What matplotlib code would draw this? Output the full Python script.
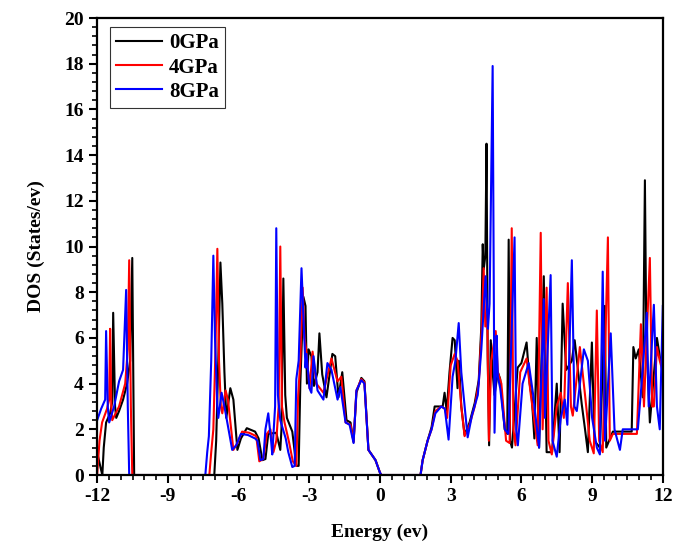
import matplotlib
matplotlib.use("Agg")
import matplotlib.pyplot as plt
from matplotlib.ticker import MultipleLocator

# Energy (eV) / DOS points, one list per pressure
e_0gpa = [-12.0, -11.85, -11.78, -11.72, -11.62, -11.45, -11.36, -11.32, -11.24, -11.19,
          -11.07, -10.9, -10.73, -10.6, -10.51, -10.45, -10.43,
          -7.03, -6.95, -6.86, -6.77, -6.69, -6.6, -6.52, -6.35, -6.22, -6.05, -5.9, -5.65,
          -5.3, -5.15, -4.99, -4.86, -4.74, -4.4, -4.23, -4.18, -4.1, -4.02, -3.95, -3.72,
          -3.55, -3.45, -3.38, -3.25, -3.16, -3.1, -3.03, -2.91, -2.8, -2.65, -2.57, -2.45,
          -2.27, -2.02, -1.9, -1.76, -1.6, -1.42, -1.25, -1.12, -1.0, -0.79, -0.66, -0.49,
          -0.19, 0.0, 0.06,
          1.72, 1.81, 2.02, 2.19, 2.32, 2.66, 2.74, 2.83, 2.95, 3.08, 3.17, 3.29, 3.35, 3.45,
          3.59, 3.8, 4.02, 4.19, 4.3, 4.36, 4.4, 4.47, 4.52, 4.57, 4.63, 4.7, 4.78, 4.86,
          5.0, 5.1, 5.29, 5.4, 5.46, 5.52, 5.6, 5.84, 6.0, 6.22, 6.35, 6.44, 6.55, 6.65,
          6.75, 6.95, 7.07, 7.3, 7.5, 7.62, 7.75, 7.9, 8.14, 8.26, 8.56, 8.7, 8.82, 8.99,
          9.1, 9.33, 9.54, 9.6, 9.88, 10.68, 10.75, 10.85, 10.98, 11.15, 11.24, 11.3, 11.45,
          11.75, 11.9, 12.0]
d_0gpa = [1.0, 0.3, 0.0, 1.2, 2.3, 2.7, 3.2, 7.1, 3.0, 2.5,
          2.8, 3.3, 4.0, 5.0, 9.5, 2.0, 0.0,
          0.0, 1.5, 5.0, 9.3, 7.5, 4.5, 2.5, 3.8, 3.3, 1.1, 1.6, 2.05,
          1.9, 1.6, 0.65, 0.7, 1.8, 1.85, 1.1, 2.0, 8.6, 3.5, 2.5, 1.9,
          0.4, 0.4, 4.0, 7.8, 7.4, 4.0, 5.5, 5.2, 3.9, 4.5, 6.2, 4.4,
          3.4, 5.3, 5.2, 3.4, 4.5, 2.4, 2.3, 1.45, 3.6, 4.25, 4.1, 1.1,
          0.65, 0.1, 0.0,
          0.0, 0.65, 1.5, 2.1, 3.0, 3.0, 3.6, 2.8, 4.5, 6.0, 5.9, 3.8, 5.0, 3.0,
          1.75, 2.3, 3.15, 4.15, 6.5, 10.1, 9.0, 9.6, 14.5, 5.2, 1.3, 5.9, 4.5, 3.5,
          4.5, 4.2, 2.0, 1.8, 10.3, 1.5, 1.2, 4.7, 4.9, 5.8, 4.0, 3.4, 1.6, 6.0,
          1.2, 8.7, 1.0, 1.0, 4.0, 1.0, 7.5, 4.6, 5.0, 5.9, 3.1, 2.0, 1.0, 5.8,
          1.5, 1.2, 7.4, 1.2, 1.9, 1.9, 5.6, 5.1, 5.5, 3.4, 12.9, 6.0, 2.3,
          6.0, 5.0, 5.2]

e_4gpa = [-12.0, -11.9, -11.79, -11.58, -11.49, -11.45, -11.4, -11.36, -11.07, -10.81,
          -10.7, -10.64, -10.57, -10.51,
          -7.24, -7.16, -7.07, -6.98, -6.9, -6.83, -6.75, -6.69, -6.55, -6.45, -6.22, -6.05,
          -5.85, -5.55, -5.25, -5.12, -4.95, -4.8, -4.65, -4.52, -4.4, -4.3, -4.23, -4.16,
          -4.05, -3.85, -3.7, -3.55, -3.47, -3.38, -3.28, -3.2, -3.12, -2.99, -2.86, -2.7,
          -2.4, -2.06, -1.8, -1.64, -1.46, -1.25, -1.12, -1.0, -0.79, -0.66, -0.49, -0.19,
          0.0, 0.06,
          1.72, 1.81, 2.02, 2.19, 2.35, 2.6, 2.75, 2.85, 3.0, 3.17, 3.29, 3.45, 3.59, 3.8,
          4.02, 4.19, 4.32, 4.4, 4.47, 4.55, 4.62, 4.72, 4.91, 5.0, 5.15, 5.35, 5.5, 5.59,
          5.66, 5.75, 5.95, 6.22, 6.4, 6.69, 6.82, 6.9, 7.07, 7.15, 7.29, 7.5, 7.67, 7.8,
          7.97, 8.1, 8.18, 8.48, 8.7, 8.9, 9.07, 9.2, 9.3, 9.45, 9.67, 9.75, 9.88, 10.9,
          11.07, 11.2, 11.45, 11.55, 11.62, 11.75, 11.87, 12.0]
d_4gpa = [0.0, 1.5, 2.3, 2.9, 3.3, 6.4, 3.0, 2.4, 3.0, 4.0,
          5.5, 9.4, 3.0, 0.0,
          0.0, 1.0, 2.0, 5.5, 9.9, 5.0, 3.0, 2.7, 3.7, 3.3, 1.1, 1.4,
          1.9, 1.85, 1.7, 0.6, 0.7, 1.8, 2.0, 1.0, 1.5, 3.0, 10.0, 3.0,
          2.3, 1.4, 0.6, 0.4, 3.5, 5.0, 8.2, 6.0, 5.4, 3.8, 5.4, 4.0,
          3.6, 5.1, 4.1, 4.3, 2.3, 2.2, 1.45, 3.7, 4.2, 4.05, 1.1, 0.65,
          0.1, 0.0,
          0.0, 0.65, 1.5, 2.0, 2.8, 3.0, 2.9, 2.5, 4.8, 5.3, 5.0, 3.0, 1.7, 2.2,
          3.0, 4.0, 6.5, 9.05, 6.5, 7.0, 1.5, 5.0, 6.3, 4.5, 4.0, 1.5, 1.4, 10.8,
          2.0, 1.3, 4.5, 5.1, 3.5, 1.3, 10.6, 2.0, 8.2, 1.5, 0.9, 3.0, 3.6, 2.5,
          8.4, 3.0, 2.6, 5.6, 3.5, 1.5, 0.95, 7.2, 1.5, 1.0, 10.4, 1.5, 1.8, 1.8,
          6.6, 3.0, 9.5, 3.0, 3.0, 5.6, 5.0, 4.5]

e_8gpa = [-12.0, -11.83, -11.66, -11.62, -11.55, -11.49, -11.28, -11.07, -10.9, -10.77,
          -10.7, -10.64,
          -7.41, -7.33, -7.26, -7.16, -7.07, -7.0, -6.9, -6.86, -6.72, -6.6, -6.27, -6.1,
          -5.9, -5.6, -5.3, -5.2, -5.07, -4.95, -4.86, -4.74, -4.62, -4.57, -4.45, -4.4,
          -4.33, -4.23, -4.0, -3.89, -3.72, -3.62, -3.55, -3.45, -3.33, -3.25, -3.16, -3.12,
          -2.99, -2.91, -2.82, -2.65, -2.4, -2.23, -2.06, -1.8, -1.68, -1.46, -1.29, -1.12,
          -1.0, -0.79, -0.66, -0.49, -0.19, 0.0, 0.06,
          1.72, 1.81, 2.02, 2.19, 2.35, 2.6, 2.75, 2.91, 3.08, 3.2, 3.34, 3.45, 3.72, 3.9,
          4.15, 4.3, 4.48, 4.58, 4.65, 4.78, 4.86, 4.95, 5.0, 5.1, 5.3, 5.45, 5.71, 5.78,
          5.85, 6.05, 6.31, 6.5, 6.75, 6.95, 7.0, 7.24, 7.32, 7.5, 7.67, 7.84, 7.95, 8.14,
          8.25, 8.35, 8.65, 8.82, 9.0, 9.2, 9.33, 9.45, 9.55, 9.79, 9.95, 10.18, 10.3,
          10.94, 11.1, 11.32, 11.4, 11.62, 11.75, 11.87, 12.0]
d_8gpa = [2.4, 2.9, 3.3, 6.3, 3.0, 2.3, 3.0, 4.1, 4.6, 8.1,
          3.0, 0.0,
          0.0, 1.0, 1.7, 5.0, 9.6, 6.0, 3.0, 2.5, 3.6, 3.0, 1.1, 1.3,
          1.8, 1.75, 1.6, 1.5, 0.65, 0.7, 2.0, 2.7, 1.5, 0.9, 3.0, 10.8,
          3.5, 2.4, 1.6, 1.0, 0.35, 0.4, 4.2, 5.0, 9.05, 7.0, 4.7, 5.3,
          3.8, 3.6, 5.2, 3.7, 3.3, 4.9, 4.6, 3.3, 3.85, 2.3, 2.2, 1.4,
          3.7, 4.15, 4.0, 1.1, 0.65, 0.1, 0.0,
          0.0, 0.65, 1.5, 2.0, 2.7, 3.0, 2.9, 1.55, 4.3, 5.0, 6.65, 4.5, 1.65, 2.6,
          3.5, 5.5, 8.7, 6.4, 7.5, 17.9, 1.85, 6.1, 4.3, 3.8, 2.0, 1.8, 10.4, 2.0,
          1.3, 4.0, 4.9, 3.5, 1.2, 7.7, 2.5, 8.75, 1.5, 0.8, 2.5, 3.3, 2.2, 9.4,
          3.0, 2.8, 5.5, 5.0, 2.5, 1.2, 0.9, 8.9, 1.5, 6.2, 2.0, 1.1, 2.0,
          2.0, 4.0, 7.1, 3.0, 7.45, 3.0, 2.0, 7.4]

labels = ["0GPa", "4GPa", "8GPa"]
colors = ["black", "red", "blue"]

plt.rcParams['font.family'] = ['Liberation Serif', 'DejaVu Serif']
plt.rcParams['font.weight'] = 'bold'
plt.rcParams['axes.unicode_minus'] = False

fig = plt.figure(figsize=(6.89, 5.46), dpi=100)
ax = fig.add_axes([0.141, 0.130, 0.821, 0.837])

for e, d, lab, c in zip([e_0gpa, e_4gpa, e_8gpa], [d_0gpa, d_4gpa, d_8gpa], labels, colors):
    ax.plot(e, d, color=c, lw=1.5, label=lab)

ax.set_xlim(-12, 12)
ax.set_ylim(0, 20)
ax.xaxis.set_major_locator(MultipleLocator(3))
ax.xaxis.set_minor_locator(MultipleLocator(0.5))
ax.yaxis.set_major_locator(MultipleLocator(2))
ax.yaxis.set_minor_locator(MultipleLocator(0.4))
ax.tick_params(which='major', direction='out', length=6, width=1.5, labelsize=14)
ax.tick_params(which='minor', direction='out', length=3.5, width=1.2)
for s in ax.spines.values():
    s.set_linewidth(1.6)

ax.set_xlabel("Energy (ev)", fontsize=14, fontweight='bold', labelpad=13)
ax.set_ylabel("DOS (States/ev)", fontsize=14, fontweight='bold', labelpad=14)

leg = ax.legend(loc='upper left', fontsize=15, handlelength=2.2, handletextpad=0.35,
                frameon=True, fancybox=False, borderpad=0.3, labelspacing=0.2,
                borderaxespad=0, bbox_to_anchor=(0.022, 0.98))
leg.get_frame().set_edgecolor('black')
leg.get_frame().set_linewidth(0.8)

fig.savefig("out.png", dpi=100)
